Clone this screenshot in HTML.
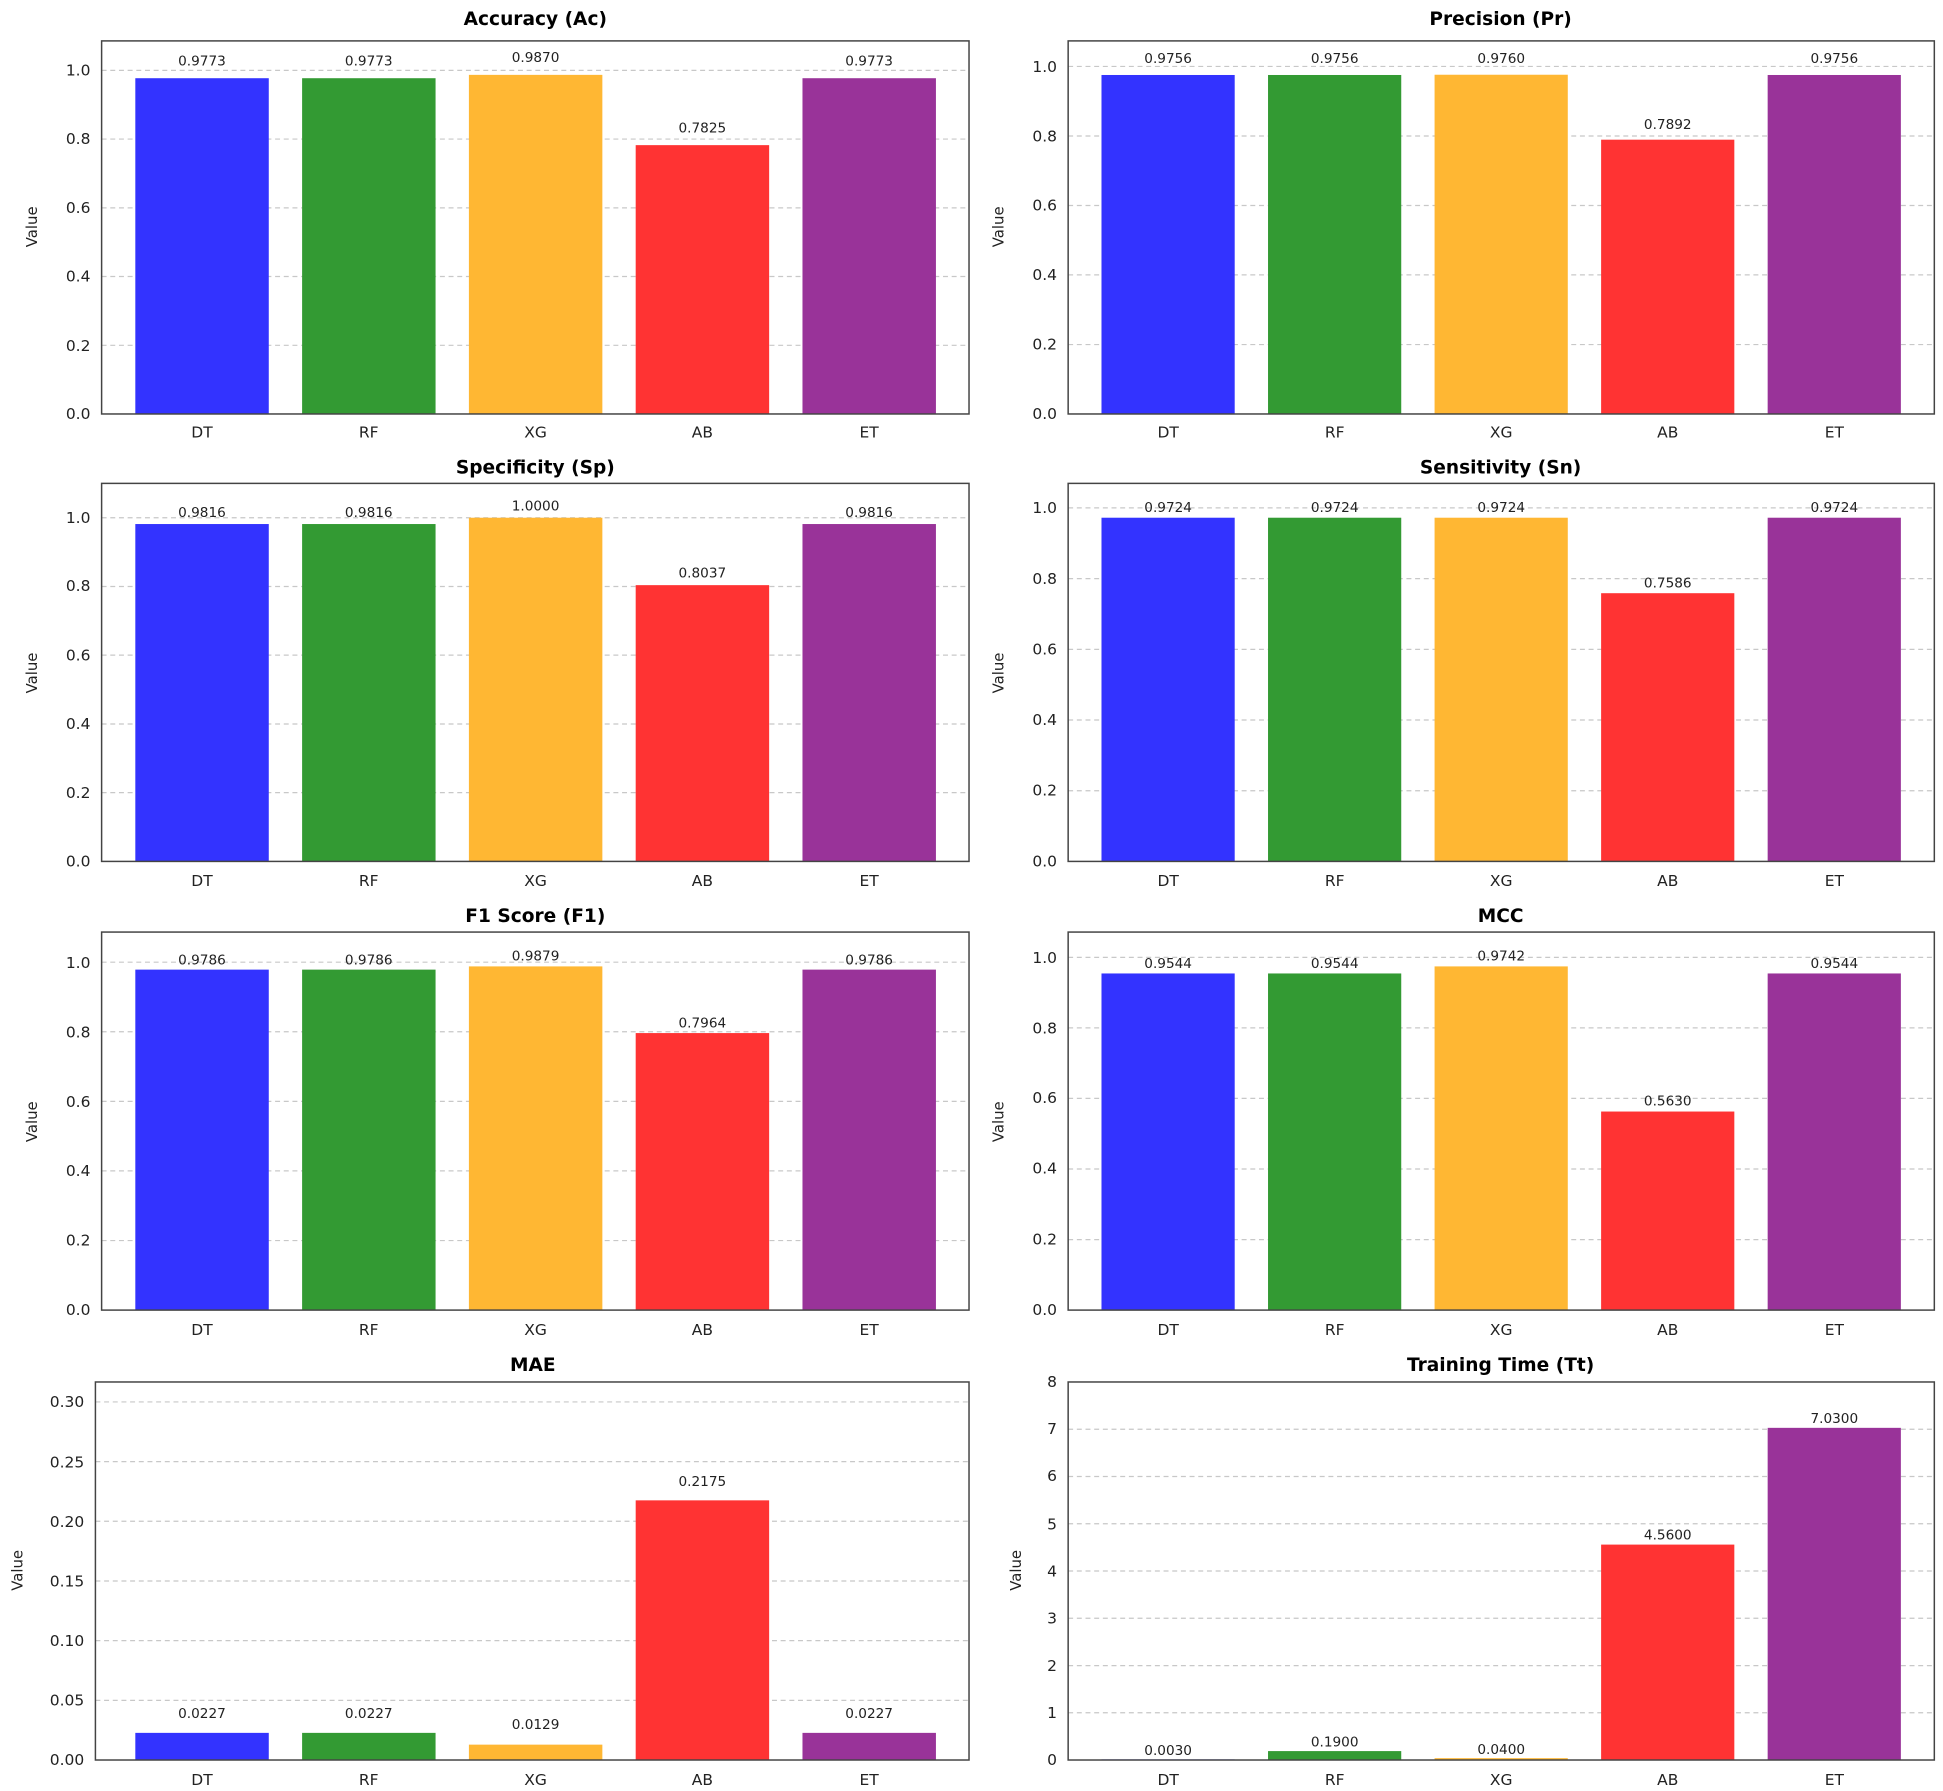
<!DOCTYPE html>
<html><head><meta charset="utf-8"><style>
html,body{margin:0;padding:0;background:#fff;}
svg{display:block;}
text{font-family:"DejaVu Sans","Liberation Sans",sans-serif;fill:#222;}
.t{font-size:15px;font-weight:bold;text-anchor:middle;fill:#000;}
.yt{font-size:12.5px;text-anchor:end;}
.xt{font-size:12.5px;text-anchor:middle;}
.v{font-size:11px;text-anchor:middle;}
.yl{font-size:12px;text-anchor:middle;}
.g{stroke:#c8c8c8;stroke-width:1;stroke-dasharray:4,3;}
.f{fill:none;stroke:#444;stroke-width:1.2;}
.k{stroke:#444;stroke-width:1;}
</style></head><body>
<svg width="1943" height="1791" viewBox="0 0 1568 1445" preserveAspectRatio="none" xmlns="http://www.w3.org/2000/svg">
<rect width="1568" height="1445" fill="#fff"/>

<!-- Panel 1 Accuracy -->
<g>
<line class="g" x1="82" x2="782" y1="278.6" y2="278.6"/><line class="g" x1="82" x2="782" y1="223.1" y2="223.1"/><line class="g" x1="82" x2="782" y1="167.7" y2="167.7"/><line class="g" x1="82" x2="782" y1="112.2" y2="112.2"/><line class="g" x1="82" x2="782" y1="56.8" y2="56.8"/>
<rect x="109.2" y="63.1" width="107.7" height="270.9" fill="#3333ff"/>
<rect x="243.8" y="63.1" width="107.7" height="270.9" fill="#339a33"/>
<rect x="378.4" y="60.4" width="107.7" height="273.6" fill="#ffb733"/>
<rect x="513" y="117.1" width="107.7" height="216.9" fill="#ff3333"/>
<rect x="647.6" y="63.1" width="107.7" height="270.9" fill="#993399"/>
<rect class="f" x="82" y="33" width="700" height="301"/>
<text class="t" x="432" y="20">Accuracy (Ac)</text>
<text class="v" x="163" y="53">0.9773</text><text class="v" x="297.6" y="53">0.9773</text><text class="v" x="432.2" y="50">0.9870</text><text class="v" x="566.8" y="107">0.7825</text><text class="v" x="701.4" y="53">0.9773</text>
<text class="yt" x="73" y="338">0.0</text><text class="yt" x="73" y="283">0.2</text><text class="yt" x="73" y="227">0.4</text><text class="yt" x="73" y="172">0.6</text><text class="yt" x="73" y="116">0.8</text><text class="yt" x="73" y="61">1.0</text>
<text class="xt" x="163" y="353">DT</text><text class="xt" x="297.6" y="353">RF</text><text class="xt" x="432.2" y="353">XG</text><text class="xt" x="566.8" y="353">AB</text><text class="xt" x="701.4" y="353">ET</text>
<text class="yl" transform="translate(30,183) rotate(-90)">Value</text>
</g>

<!-- Panel 2 Precision -->
<g>
<line class="g" x1="862" x2="1561" y1="278" y2="278"/><line class="g" x1="862" x2="1561" y1="221.8" y2="221.8"/><line class="g" x1="862" x2="1561" y1="165.8" y2="165.8"/><line class="g" x1="862" x2="1561" y1="109.7" y2="109.7"/><line class="g" x1="862" x2="1561" y1="53.6" y2="53.6"/>
<rect x="888.9" y="60.5" width="107.5" height="273.5" fill="#3333ff"/>
<rect x="1023.3" y="60.5" width="107.5" height="273.5" fill="#339a33"/>
<rect x="1157.7" y="60.3" width="107.5" height="273.7" fill="#ffb733"/>
<rect x="1292.1" y="112.7" width="107.5" height="221.3" fill="#ff3333"/>
<rect x="1426.5" y="60.5" width="107.5" height="273.5" fill="#993399"/>
<rect class="f" x="862" y="33" width="699" height="301"/>
<text class="t" x="1211" y="20">Precision (Pr)</text>
<text class="v" x="942.7" y="51">0.9756</text><text class="v" x="1077.1" y="51">0.9756</text><text class="v" x="1211.5" y="51">0.9760</text><text class="v" x="1345.9" y="104">0.7892</text><text class="v" x="1480.3" y="51">0.9756</text>
<text class="yt" x="853" y="338">0.0</text><text class="yt" x="853" y="282">0.2</text><text class="yt" x="853" y="226">0.4</text><text class="yt" x="853" y="170">0.6</text><text class="yt" x="853" y="114">0.8</text><text class="yt" x="853" y="58">1.0</text>
<text class="xt" x="942.7" y="353">DT</text><text class="xt" x="1077.1" y="353">RF</text><text class="xt" x="1211.5" y="353">XG</text><text class="xt" x="1345.9" y="353">AB</text><text class="xt" x="1480.3" y="353">ET</text>
<text class="yl" transform="translate(810,183) rotate(-90)">Value</text>
</g>

<!-- Panel 3 Specificity -->
<g>
<line class="g" x1="82" x2="782" y1="639.5" y2="639.5"/><line class="g" x1="82" x2="782" y1="584.1" y2="584.1"/><line class="g" x1="82" x2="782" y1="528.6" y2="528.6"/><line class="g" x1="82" x2="782" y1="473.2" y2="473.2"/><line class="g" x1="82" x2="782" y1="417.7" y2="417.7"/>
<rect x="109.2" y="422.8" width="107.7" height="272.2" fill="#3333ff"/>
<rect x="243.8" y="422.8" width="107.7" height="272.2" fill="#339a33"/>
<rect x="378.4" y="417.7" width="107.7" height="277.3" fill="#ffb733"/>
<rect x="513" y="472.1" width="107.7" height="222.9" fill="#ff3333"/>
<rect x="647.6" y="422.8" width="107.7" height="272.2" fill="#993399"/>
<rect class="f" x="82" y="390" width="700" height="305"/>
<text class="t" x="432" y="382">Specificity (Sp)</text>
<text class="v" x="163" y="417">0.9816</text><text class="v" x="297.6" y="417">0.9816</text><text class="v" x="432.2" y="412">1.0000</text><text class="v" x="566.8" y="466">0.8037</text><text class="v" x="701.4" y="417">0.9816</text>
<text class="yt" x="73" y="699">0.0</text><text class="yt" x="73" y="644">0.2</text><text class="yt" x="73" y="588">0.4</text><text class="yt" x="73" y="533">0.6</text><text class="yt" x="73" y="477">0.8</text><text class="yt" x="73" y="422">1.0</text>
<text class="xt" x="163" y="715">DT</text><text class="xt" x="297.6" y="715">RF</text><text class="xt" x="432.2" y="715">XG</text><text class="xt" x="566.8" y="715">AB</text><text class="xt" x="701.4" y="715">ET</text>
<text class="yl" transform="translate(30,543) rotate(-90)">Value</text>
</g>

<!-- Panel 4 Sensitivity -->
<g>
<line class="g" x1="862" x2="1561" y1="638" y2="638"/><line class="g" x1="862" x2="1561" y1="580.9" y2="580.9"/><line class="g" x1="862" x2="1561" y1="523.9" y2="523.9"/><line class="g" x1="862" x2="1561" y1="466.8" y2="466.8"/><line class="g" x1="862" x2="1561" y1="409.8" y2="409.8"/>
<rect x="888.9" y="417.7" width="107.5" height="277.3" fill="#3333ff"/>
<rect x="1023.3" y="417.7" width="107.5" height="277.3" fill="#339a33"/>
<rect x="1157.7" y="417.7" width="107.5" height="277.3" fill="#ffb733"/>
<rect x="1292.1" y="478.6" width="107.5" height="216.4" fill="#ff3333"/>
<rect x="1426.5" y="417.7" width="107.5" height="277.3" fill="#993399"/>
<rect class="f" x="862" y="390" width="699" height="305"/>
<text class="t" x="1211" y="382">Sensitivity (Sn)</text>
<text class="v" x="942.7" y="413">0.9724</text><text class="v" x="1077.1" y="413">0.9724</text><text class="v" x="1211.5" y="413">0.9724</text><text class="v" x="1345.9" y="474">0.7586</text><text class="v" x="1480.3" y="413">0.9724</text>
<text class="yt" x="853" y="699">0.0</text><text class="yt" x="853" y="642">0.2</text><text class="yt" x="853" y="585">0.4</text><text class="yt" x="853" y="528">0.6</text><text class="yt" x="853" y="471">0.8</text><text class="yt" x="853" y="414">1.0</text>
<text class="xt" x="942.7" y="715">DT</text><text class="xt" x="1077.1" y="715">RF</text><text class="xt" x="1211.5" y="715">XG</text><text class="xt" x="1345.9" y="715">AB</text><text class="xt" x="1480.3" y="715">ET</text>
<text class="yl" transform="translate(810,543) rotate(-90)">Value</text>
</g>

<!-- Panel 5 F1 -->
<g>
<line class="g" x1="82" x2="782" y1="1000.9" y2="1000.9"/><line class="g" x1="82" x2="782" y1="944.7" y2="944.7"/><line class="g" x1="82" x2="782" y1="888.6" y2="888.6"/><line class="g" x1="82" x2="782" y1="832.4" y2="832.4"/><line class="g" x1="82" x2="782" y1="776.3" y2="776.3"/>
<rect x="109.2" y="782.3" width="107.7" height="274.7" fill="#3333ff"/>
<rect x="243.8" y="782.3" width="107.7" height="274.7" fill="#339a33"/>
<rect x="378.4" y="779.7" width="107.7" height="277.3" fill="#ffb733"/>
<rect x="513" y="833.5" width="107.7" height="223.5" fill="#ff3333"/>
<rect x="647.6" y="782.3" width="107.7" height="274.7" fill="#993399"/>
<rect class="f" x="82" y="752" width="700" height="305"/>
<text class="t" x="432" y="744">F1 Score (F1)</text>
<text class="v" x="163" y="778">0.9786</text><text class="v" x="297.6" y="778">0.9786</text><text class="v" x="432.2" y="775">0.9879</text><text class="v" x="566.8" y="829">0.7964</text><text class="v" x="701.4" y="778">0.9786</text>
<text class="yt" x="73" y="1061">0.0</text><text class="yt" x="73" y="1005">0.2</text><text class="yt" x="73" y="949">0.4</text><text class="yt" x="73" y="893">0.6</text><text class="yt" x="73" y="837">0.8</text><text class="yt" x="73" y="781">1.0</text>
<text class="xt" x="163" y="1077">DT</text><text class="xt" x="297.6" y="1077">RF</text><text class="xt" x="432.2" y="1077">XG</text><text class="xt" x="566.8" y="1077">AB</text><text class="xt" x="701.4" y="1077">ET</text>
<text class="yl" transform="translate(30,905) rotate(-90)">Value</text>
</g>

<!-- Panel 6 MCC -->
<g>
<line class="g" x1="862" x2="1561" y1="1000.1" y2="1000.1"/><line class="g" x1="862" x2="1561" y1="943.2" y2="943.2"/><line class="g" x1="862" x2="1561" y1="886.2" y2="886.2"/><line class="g" x1="862" x2="1561" y1="829.3" y2="829.3"/><line class="g" x1="862" x2="1561" y1="772.4" y2="772.4"/>
<rect x="888.9" y="785.4" width="107.5" height="271.6" fill="#3333ff"/>
<rect x="1023.3" y="785.4" width="107.5" height="271.6" fill="#339a33"/>
<rect x="1157.7" y="779.7" width="107.5" height="277.3" fill="#ffb733"/>
<rect x="1292.1" y="896.8" width="107.5" height="160.2" fill="#ff3333"/>
<rect x="1426.5" y="785.4" width="107.5" height="271.6" fill="#993399"/>
<rect class="f" x="862" y="752" width="699" height="305"/>
<text class="t" x="1211" y="744">MCC</text>
<text class="v" x="942.7" y="781">0.9544</text><text class="v" x="1077.1" y="781">0.9544</text><text class="v" x="1211.5" y="775">0.9742</text><text class="v" x="1345.9" y="892">0.5630</text><text class="v" x="1480.3" y="781">0.9544</text>
<text class="yt" x="853" y="1061">0.0</text><text class="yt" x="853" y="1004">0.2</text><text class="yt" x="853" y="947">0.4</text><text class="yt" x="853" y="890">0.6</text><text class="yt" x="853" y="834">0.8</text><text class="yt" x="853" y="777">1.0</text>
<text class="xt" x="942.7" y="1077">DT</text><text class="xt" x="1077.1" y="1077">RF</text><text class="xt" x="1211.5" y="1077">XG</text><text class="xt" x="1345.9" y="1077">AB</text><text class="xt" x="1480.3" y="1077">ET</text>
<text class="yl" transform="translate(810,905) rotate(-90)">Value</text>
</g>

<!-- Panel 7 MAE -->
<g>
<line class="g" x1="77" x2="782" y1="1371.9" y2="1371.9"/><line class="g" x1="77" x2="782" y1="1323.7" y2="1323.7"/><line class="g" x1="77" x2="782" y1="1275.6" y2="1275.6"/><line class="g" x1="77" x2="782" y1="1227.4" y2="1227.4"/><line class="g" x1="77" x2="782" y1="1179.3" y2="1179.3"/><line class="g" x1="77" x2="782" y1="1131.1" y2="1131.1"/>
<rect x="109.2" y="1398.1" width="107.7" height="21.9" fill="#3333ff"/>
<rect x="243.8" y="1398.1" width="107.7" height="21.9" fill="#339a33"/>
<rect x="378.4" y="1407.6" width="107.7" height="12.4" fill="#ffb733"/>
<rect x="513" y="1210.5" width="107.7" height="209.5" fill="#ff3333"/>
<rect x="647.6" y="1398.1" width="107.7" height="21.9" fill="#993399"/>
<rect class="f" x="77" y="1115" width="705" height="305"/>
<text class="t" x="430" y="1106">MAE</text>
<text class="v" x="163" y="1386">0.0227</text><text class="v" x="297.6" y="1386">0.0227</text><text class="v" x="432.2" y="1395">0.0129</text><text class="v" x="566.8" y="1199">0.2175</text><text class="v" x="701.4" y="1386">0.0227</text>
<text class="yt" x="68" y="1424">0.00</text><text class="yt" x="68" y="1376">0.05</text><text class="yt" x="68" y="1328">0.10</text><text class="yt" x="68" y="1280">0.15</text><text class="yt" x="68" y="1232">0.20</text><text class="yt" x="68" y="1184">0.25</text><text class="yt" x="68" y="1135">0.30</text>
<text class="xt" x="163" y="1440">DT</text><text class="xt" x="297.6" y="1440">RF</text><text class="xt" x="432.2" y="1440">XG</text><text class="xt" x="566.8" y="1440">AB</text><text class="xt" x="701.4" y="1440">ET</text>
<text class="yl" transform="translate(18,1267) rotate(-90)">Value</text>
</g>

<!-- Panel 8 Training Time -->
<g>
<line class="g" x1="862" x2="1561" y1="1381.9" y2="1381.9"/><line class="g" x1="862" x2="1561" y1="1343.8" y2="1343.8"/><line class="g" x1="862" x2="1561" y1="1305.6" y2="1305.6"/><line class="g" x1="862" x2="1561" y1="1267.5" y2="1267.5"/><line class="g" x1="862" x2="1561" y1="1229.4" y2="1229.4"/><line class="g" x1="862" x2="1561" y1="1191.3" y2="1191.3"/><line class="g" x1="862" x2="1561" y1="1153.1" y2="1153.1"/>
<rect x="888.9" y="1419.5" width="107.5" height="0.5" fill="#3333ff"/>
<rect x="1023.3" y="1412.8" width="107.5" height="7.2" fill="#339a33"/>
<rect x="1157.7" y="1418.5" width="107.5" height="1.5" fill="#ffb733"/>
<rect x="1292.1" y="1246.2" width="107.5" height="173.8" fill="#ff3333"/>
<rect x="1426.5" y="1152" width="107.5" height="268" fill="#993399"/>
<rect class="f" x="862" y="1115" width="699" height="305"/>
<text class="t" x="1211" y="1106">Training Time (Tt)</text>
<text class="v" x="942.7" y="1416">0.0030</text><text class="v" x="1077.1" y="1409">0.1900</text><text class="v" x="1211.5" y="1415">0.0400</text><text class="v" x="1345.9" y="1242">4.5600</text><text class="v" x="1480.3" y="1148">7.0300</text>
<text class="yt" x="853" y="1424">0</text><text class="yt" x="853" y="1386">1</text><text class="yt" x="853" y="1348">2</text><text class="yt" x="853" y="1310">3</text><text class="yt" x="853" y="1272">4</text><text class="yt" x="853" y="1234">5</text><text class="yt" x="853" y="1195">6</text><text class="yt" x="853" y="1157">7</text><text class="yt" x="853" y="1119">8</text>
<text class="xt" x="942.7" y="1440">DT</text><text class="xt" x="1077.1" y="1440">RF</text><text class="xt" x="1211.5" y="1440">XG</text><text class="xt" x="1345.9" y="1440">AB</text><text class="xt" x="1480.3" y="1440">ET</text>
<text class="yl" transform="translate(824,1267) rotate(-90)">Value</text>
</g>
</svg>
</body></html>
